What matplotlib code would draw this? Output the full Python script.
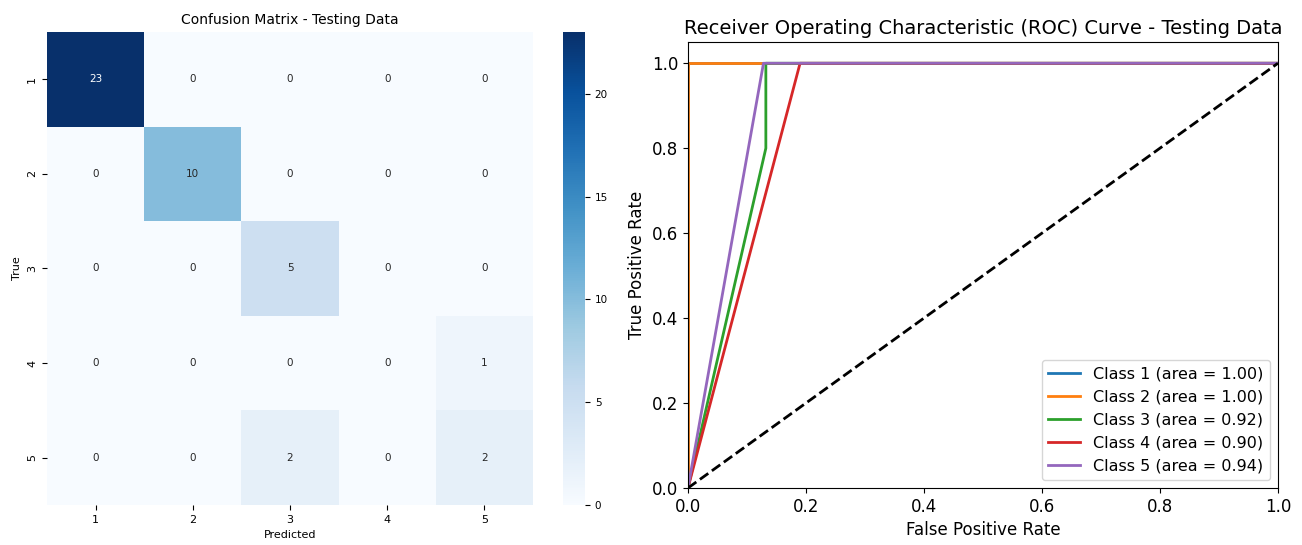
import numpy as np
import matplotlib
matplotlib.use("Agg")
import matplotlib.pyplot as plt
import seaborn as sns

# --- data ---
class_labels = ["1", "2", "3", "4", "5"]
conf_matrix = [
    [23, 0, 0, 0, 0],
    [0, 10, 0, 0, 0],
    [0, 0, 5, 0, 0],
    [0, 0, 0, 0, 1],
    [0, 0, 2, 0, 2],
]

# ROC curve points per class (fpr, tpr) and reported areas
roc_fpr = [
    [0.0, 0.0, 1.0],
    [0.0, 0.0, 1.0],
    [0.0, 0.132, 0.132, 1.0],
    [0.0, 0.19, 1.0],
    [0.0, 0.128, 1.0],
]
roc_tpr = [
    [0.0, 1.0, 1.0],
    [0.0, 1.0, 1.0],
    [0.0, 0.8, 1.0, 1.0],
    [0.0, 1.0, 1.0],
    [0.0, 1.0, 1.0],
]
roc_auc = [1.00, 1.00, 0.92, 0.90, 0.94]

fig = plt.figure(figsize=(13.02, 5.45), dpi=100)

# --- confusion matrix ---
ax_cm = fig.add_axes([0.0361, 0.0734, 0.3733, 0.8679])
ax_cb = fig.add_axes([0.4324, 0.0734, 0.0169, 0.8679])
sns.heatmap(np.array(conf_matrix), annot=True, fmt="d", cmap="Blues",
            xticklabels=class_labels, yticklabels=class_labels,
            ax=ax_cm, cbar_ax=ax_cb, annot_kws={"fontsize": 7.5})
ax_cm.set_title("Confusion Matrix - Testing Data", fontsize=10)
ax_cm.set_xlabel("Predicted", fontsize=8)
ax_cm.set_ylabel("True", fontsize=8)
ax_cm.tick_params(labelsize=8)
plt.setp(ax_cm.get_yticklabels(), rotation=90, va="center")
ax_cb.tick_params(labelsize=7.5)

# --- ROC ---
ax_roc = fig.add_axes([0.5284, 0.1046, 0.4531, 0.8183])
for i in range(len(class_labels)):
    ax_roc.plot(roc_fpr[i], roc_tpr[i], lw=2,
                label=f"Class {class_labels[i]} (area = {roc_auc[i]:.2f})")
ax_roc.plot([0, 1], [0, 1], "k--", lw=2)
ax_roc.set_xlim([0.0, 1.0])
ax_roc.set_ylim([0.0, 1.05])
ax_roc.set_xlabel("False Positive Rate", fontsize=12)
ax_roc.set_ylabel("True Positive Rate", fontsize=12)
ax_roc.set_title("Receiver Operating Characteristic (ROC) Curve - Testing Data", fontsize=14)
ax_roc.tick_params(labelsize=12)
ax_roc.legend(loc="lower right", fontsize=11.5)

fig.savefig("out.png", dpi=100)
